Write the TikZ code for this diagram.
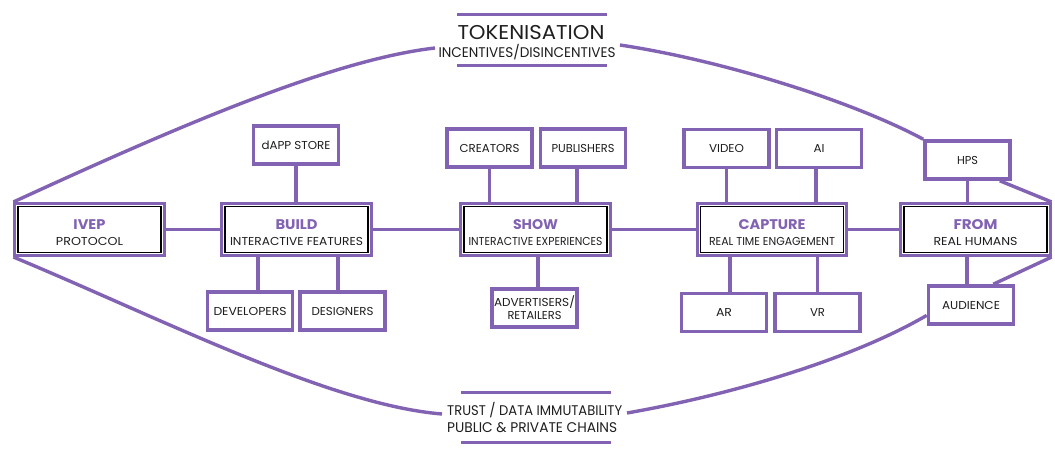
\documentclass[tikz,border=0pt]{standalone}
\usepackage{fontspec}
\setmainfont{Poppins}
\usetikzlibrary{fit,calc}
\definecolor{pp}{RGB}{130,98,178}
\definecolor{tx}{RGB}{30,30,30}
\newcommand{\fw}[2]{\resizebox{#1pt}{\height}{#2}}
\newcommand{\mtitle}[4]{\rule{0pt}{16pt}\fw{#1}{\color{pp}\fontsize{14}{15}\selectfont\bfseries #2}\\[1.5pt]\fw{#3}{#4}}
\begin{document}
\begin{tikzpicture}[x=1pt,y=-1pt,
  inbox/.style={draw=black, line width=1.3pt, minimum width=143pt, minimum height=46pt, inner sep=0pt, align=center, text=tx, font=\fontsize{11.5}{14}\selectfont},
  outbox/.style={draw=pp, line width=2.8pt, inner sep=2.5pt},
  sbox/.style={draw=pp, line width=3.6pt, minimum width=85pt, minimum height=38pt, inner sep=0pt, align=center, text=tx, font=\fontsize{11.5}{13}\selectfont},
  conn/.style={draw=pp, line width=3.6pt},
  lens/.style={draw=pp, line width=3.4pt},
  rule/.style={draw=pp, line width=3pt},
  big/.style={text=tx, inner sep=0pt}
]
\useasboundingbox (0,0) rectangle (1055,454);
% main boxes
\node[inbox] (ivep) at (89.5,229.5) {\mtitle{32}{IVEP}{67}{PROTOCOL}};
\node[outbox, fit=(ivep)] (ivepo) {};
\node[inbox] (build) at (296.5,229.5) {\mtitle{42}{BUILD}{133}{INTERACTIVE FEATURES}};
\node[outbox, fit=(build)] (buildo) {};
\node[inbox] (show) at (535.5,229.5) {\mtitle{45}{SHOW}{134}{INTERACTIVE EXPERIENCES}};
\node[outbox, fit=(show)] (showo) {};
\node[inbox] (cap) at (772,229.5) {\mtitle{67}{CAPTURE}{126}{REAL TIME ENGAGEMENT}};
\node[outbox, fit=(cap)] (capo) {};
\node[inbox] (from) at (975.5,229.5) {\mtitle{44}{FROM}{84}{REAL HUMANS}};
\node[outbox, fit=(from)] (fromo) {};
% small boxes
\node[sbox] (dapp) at (296,145) {\fw{69}{dAPP STORE}};
\node[sbox] (dev) at (250,311) {\fw{73}{DEVELOPERS}};
\node[sbox] (des) at (342.5,311) {\fw{62}{DESIGNERS}};
\node[sbox] (cre) at (489.5,148) {\fw{60}{CREATORS}};
\node[sbox] (pub) at (583,148) {\fw{63}{PUBLISHERS}};
\node[sbox] (adv) at (534.5,308) {\fw{81}{ADVERTISERS/}\\\fw{54}{RETAILERS}};
\node[sbox] (vid) at (726.5,148.5) {\fw{35}{VIDEO}};
\node[sbox] (ai) at (819,148.5) {\fw{11}{AI}};
\node[sbox] (ar) at (724,312.5) {\fw{16}{AR}};
\node[sbox] (vr) at (817.5,312.5) {\fw{15}{VR}};
\node[sbox] (hps) at (967.5,160) {\fw{21}{HPS}};
\node[sbox] (aud) at (971,305) {\fw{58}{AUDIENCE}};
% connectors
\draw[conn] (ivepo.east) -- (buildo.west);
\draw[conn] (buildo.east) -- (showo.west);
\draw[conn] (showo.east) -- (capo.west);
\draw[conn] (capo.east) -- (fromo.west);
\draw[conn] (dapp.south) -- (dapp.south |- buildo.north);
\draw[conn] ([xshift=8pt]dev.north) -- ([xshift=8pt]dev.north |- buildo.south);
\draw[conn] ([xshift=-4.5pt]des.north) -- ([xshift=-4.5pt]des.north |- buildo.south);
\draw[conn] (cre.south) -- (cre.south |- showo.north);
\draw[conn] ([xshift=-6pt]pub.south) -- ([xshift=-6pt]pub.south |- showo.north);
\draw[conn] ([xshift=3.5pt]adv.north) -- ([xshift=3.5pt]adv.north |- showo.south);
\draw[conn] (vid.south) -- (vid.south |- capo.north);
\draw[conn] ([xshift=-3pt]ai.south) -- ([xshift=-3pt]ai.south |- capo.north);
\draw[conn] ([xshift=6pt]ar.north) -- ([xshift=6pt]ar.north |- capo.south);
\draw[conn] (vr.north) -- (vr.north |- capo.south);
\draw[conn] (hps.south) -- (hps.south |- fromo.north);
\draw[conn] ([xshift=-4pt]aud.north) -- ([xshift=-4pt]aud.north |- fromo.south);
% top text
\node[big, font=\fontsize{20}{22}\selectfont] (tok) at (531,33) {\fw{147}{TOKENISATION}};
\node[big, font=\fontsize{14}{15}\selectfont] (inc) at (527,52) {\fw{177}{INCENTIVES/DISINCENTIVES}};
\draw[rule] (457,15) -- (607,15);
\draw[rule] (457,66) -- (607,66);
% bottom text
\node[big, anchor=west, font=\fontsize{14}{15}\selectfont] (trust) at (447,410) {\fw{175}{TRUST / DATA IMMUTABILITY}};
\node[big, anchor=west, font=\fontsize{14}{15}\selectfont] (pubc) at (447,428) {\fw{170}{PUBLIC \& PRIVATE CHAINS}};
\draw[rule] (461,392) -- (611,392);
\draw[rule] (461,442) -- (611,442);
% lens
\coordinate (tl) at (435,48);
\coordinate (tr) at (620,45);
\coordinate (bl) at (442,414);
\coordinate (br) at (627,413);
\draw[lens] (ivepo.north west) .. controls (170,130) and (330,60) .. (tl);
\draw[lens] (tr) .. controls (720,60) and (850,100) .. (hps.north west);
\draw[lens] (ivepo.south west) .. controls (160,318) and (330,405) .. (bl);
\draw[lens] (br) .. controls (730,395) and (850,360) .. ($(aud.west)!0.5!(aud.south west)$);
\draw[lens] ([xshift=-12pt]hps.south east) -- (fromo.north east);
\draw[lens] (fromo.south east) -- ([xshift=-22pt]aud.north east);
\end{tikzpicture}
\end{document}
